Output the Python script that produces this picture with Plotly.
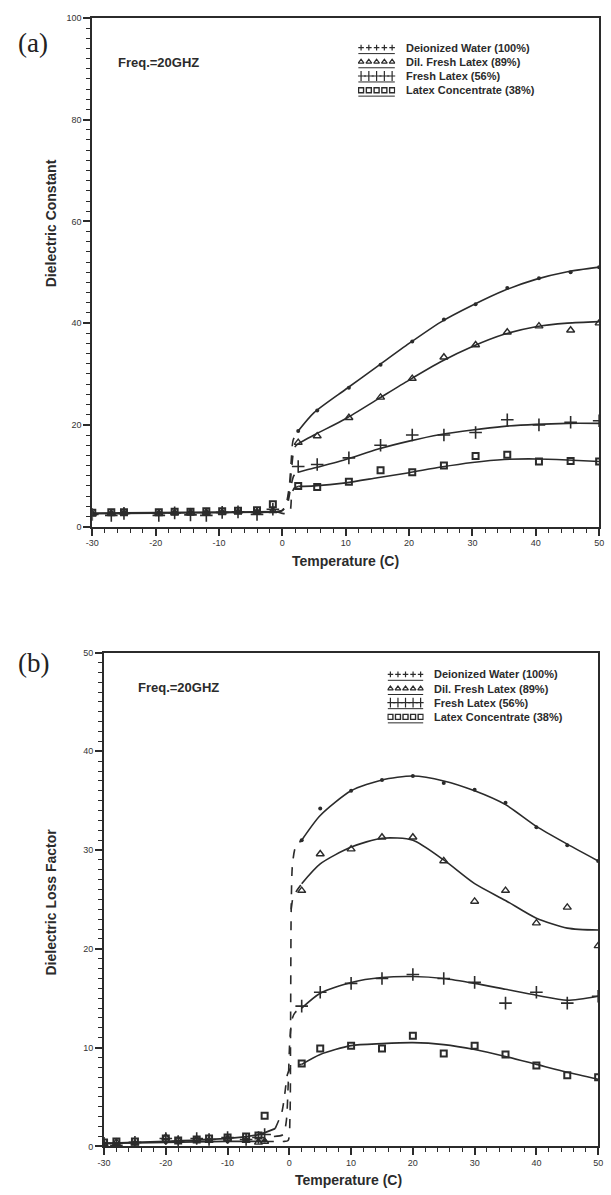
import plotly.graph_objects as go

# ---------------- Panel (a): Dielectric constant ----------------
A_X_LOW = [-30, -27, -25, -19.5, -17, -14.5, -12, -9.5, -7, -4, -1.5]
A_WATER_LOW = [2.6, 2.7, 2.8, 2.7, 2.8, 2.8, 2.8, 2.9, 2.9, 3.0, 3.0]
A_DIL_LOW = [2.5, 2.6, 2.7, 2.6, 2.7, 2.8, 2.8, 2.8, 2.9, 2.9, 3.1]
A_FRESH_LOW = [2.4, 2.2, 2.6, 2.2, 2.7, 2.3, 2.2, 2.8, 2.9, 2.4, 3.4]
A_CONC_LOW = [2.7, 2.8, 2.8, 2.8, 2.9, 2.9, 3.0, 3.0, 3.1, 3.2, 4.4]

A_X_HIGH = [2.5, 5.5, 10.5, 15.5, 20.5, 25.5, 30.5, 35.5, 40.5, 45.5, 50]
A_WATER = [18.8, 22.8, 27.3, 31.8, 36.4, 40.7, 43.7, 46.9, 48.8, 50.0, 51.0]
A_DIL = [16.5, 17.8, 21.4, 25.4, 29.1, 33.3, 35.7, 38.2, 39.4, 38.6, 40.0]
A_FRESH = [11.8, 12.2, 13.5, 16.0, 18.0, 18.0, 18.5, 21.0, 20.0, 20.5, 20.8]
A_CONC = [8.0, 7.8, 8.8, 11.1, 10.7, 12.0, 13.9, 14.1, 12.8, 12.9, 12.8]

# fitted curves
A_FIT_X = [2.5, 5, 10, 15, 20, 25, 30, 35, 40, 45, 50]
A_WATER_FIT = [18.8, 22.4, 27.0, 31.5, 36.0, 40.2, 43.5, 46.4, 48.6, 50.1, 51.0]
A_DIL_FIT = [16.3, 18.0, 21.2, 25.0, 28.8, 32.4, 35.4, 37.8, 39.3, 40.0, 40.3]
A_FRESH_FIT = [10.7, 11.5, 13.2, 15.2, 16.8, 18.1, 19.0, 19.7, 20.1, 20.3, 20.3]
A_CONC_FIT = [7.9, 8.0, 8.6, 9.6, 10.6, 11.7, 12.6, 13.2, 13.3, 13.1, 12.8]

A_LOW_FIT_X = [-30, -20, -10, -1]
A_LOW_FIT_Y = [2.6, 2.7, 2.8, 2.9]

# dashed transitions near 0 C
A_T_WATER_X = [-1, 0, 0.6, 1.1, 1.4, 1.7, 2.5]
A_T_WATER_Y = [2.9, 3.2, 4.5, 8, 13, 17, 18.8]
A_T_DIL_X = [-1, 0, 0.7, 1.2, 1.5, 1.9, 2.5]
A_T_DIL_Y = [2.9, 3.2, 4.5, 8, 12, 15.5, 16.3]
A_T_FRESH_X = [-1, 0, 0.8, 1.3, 1.8, 2.5]
A_T_FRESH_Y = [2.9, 3.2, 4.5, 7.5, 10, 10.7]
A_T_CONC_X = [-1, 0, 1.0, 1.3, 1.5, 1.9, 2.5]
A_T_CONC_Y = [2.9, 2.6, 2.6, 3.5, 6.5, 7.6, 7.9]

# ---------------- Panel (b): Dielectric loss factor ----------------
B_X_LOW = [-30, -28, -25, -20, -18, -15, -13, -10, -7, -5, -4]
B_WATER_LOW = [0.3, 0.3, 0.4, 0.4, 0.4, 0.5, 0.5, 0.5, 0.6, 0.6, 0.6]
B_DIL_LOW = [0.2, 0.4, 0.3, 0.9, 0.6, 0.7, 0.6, 0.8, 0.6, 0.4, 0.5]
B_FRESH_LOW = [0.3, 0.1, 0.4, 0.8, 0.5, 0.8, 0.7, 0.9, 0.7, 0.9, 1.2]
B_CONC_LOW = [0.4, 0.5, 0.5, 0.8, 0.6, 0.7, 0.8, 0.9, 1.0, 1.1, 3.1]

B_X_HIGH = [2, 5, 10, 15, 20, 25, 30, 35, 40, 45, 50]
B_WATER = [31.0, 34.2, 36.0, 37.1, 37.5, 36.8, 36.1, 34.8, 32.3, 30.5, 28.9]
B_DIL = [25.9, 29.6, 30.1, 31.3, 31.3, 28.9, 24.8, 25.9, 22.6, 24.2, 20.3]
B_FRESH = [14.2, 15.6, 16.5, 17.0, 17.4, 17.0, 16.6, 14.5, 15.6, 14.5, 15.2]
B_CONC = [8.4, 9.9, 10.2, 9.9, 11.2, 9.4, 10.2, 9.3, 8.2, 7.2, 7.0]

B_FIT_X = [2, 5, 10, 15, 20, 25, 30, 35, 40, 45, 50]
B_WATER_FIT = [31.0, 33.5, 36.0, 37.1, 37.5, 37.0, 36.0, 34.6, 32.4, 30.6, 28.9]
B_DIL_FIT = [26.6, 28.6, 30.3, 31.2, 31.0, 29.0, 26.6, 24.9, 23.1, 22.1, 21.9]
B_FRESH_FIT = [14.0, 15.5, 16.6, 17.1, 17.2, 17.0, 16.5, 15.9, 15.3, 14.8, 15.2]
B_CONC_FIT = [8.3, 9.3, 10.2, 10.4, 10.5, 10.3, 9.8, 9.1, 8.3, 7.5, 6.8]

B_LOW1_X = [-30, -20, -10, -4]
B_LOW1_Y = [0.3, 0.4, 0.5, 0.5]
B_LOW2_X = [-30, -20, -10, -5, -2.3]
B_LOW2_Y = [0.3, 0.5, 0.8, 1.2, 1.8]

B_T_WATER_X = [-4, -1, -0.2, 0.1, 0.2, 0.3, 0.5, 1.0, 2.0]
B_T_WATER_Y = [0.5, 0.5, 0.6, 3, 12, 24, 28.5, 30.3, 31.0]
B_T_DIL_X = [0.3, 0.6, 1.2, 2.0]
B_T_DIL_Y = [24, 25.2, 25.9, 26.6]
B_T_FRESH_X = [-2.5, -1, -0.5, -0.2, 0.1, 0.5, 1.0, 2.0]
B_T_FRESH_Y = [1.0, 1.2, 2.5, 6, 11, 13, 13.6, 14.0]
B_T_CONC_X = [-2.3, -1.2, -0.7, -0.3, 0.3, 1.0, 2.0]
B_T_CONC_Y = [1.8, 3.5, 5.5, 7.3, 8.0, 8.2, 8.3]

SERIES = ["Deionized Water (100%)", "Dil. Fresh Latex (89%)", "Fresh Latex (56%)",
          "Latex Concentrate (38%)"]
X_TICKS = [-30, -20, -10, 0, 10, 20, 30, 40, 50]
X_TICK_TEXT = ["-30", "-20", "-10", "0", "10", "20", "30", "40", "50"]
LEGEND_SAMPLE_X = [0, 1, 2, 3, 4]

INK = "#2b2b2b"
MARKERS = [
    dict(symbol="circle", size=4, color=INK),
    dict(symbol="triangle-up-open", size=7, color=INK, line=dict(width=1.4, color=INK)),
    dict(symbol="cross-thin-open", size=9, color=INK, line=dict(width=1.6, color=INK)),
    dict(symbol="square-open", size=6, color=INK, line=dict(width=2, color=INK)),
]
LEG_MARKERS = [
    dict(symbol="cross-thin-open", size=4, color=INK, line=dict(width=1.2, color=INK)),
    dict(symbol="triangle-up-open", size=5, color=INK, line=dict(width=1.2, color=INK)),
    dict(symbol="cross-thin-open", size=7, color=INK, line=dict(width=1.2, color=INK)),
    dict(symbol="square-open", size=5, color=INK, line=dict(width=1.4, color=INK)),
]

fig = go.Figure()


def add_line(x, y, xa, ya, dash="solid", width=1.6):
    fig.add_trace(go.Scatter(x=x, y=y, xaxis=xa, yaxis=ya, mode="lines",
                             line=dict(color=INK, width=width, dash=dash, shape="spline", smoothing=0.7),
                             showlegend=False, hoverinfo="skip"))


def add_pts(x, y, xa, ya, m, name):
    fig.add_trace(go.Scatter(x=x, y=y, xaxis=xa, yaxis=ya, mode="markers", name=name,
                             marker=m, showlegend=False))


# panel a
add_line(A_LOW_FIT_X, A_LOW_FIT_Y, "x", "y", width=2.2)
for tx, ty in [(A_T_WATER_X, A_T_WATER_Y), (A_T_DIL_X, A_T_DIL_Y),
               (A_T_FRESH_X, A_T_FRESH_Y), (A_T_CONC_X, A_T_CONC_Y)]:
    add_line(tx, ty, "x", "y", dash="dash")
for fy in [A_WATER_FIT, A_DIL_FIT, A_FRESH_FIT, A_CONC_FIT]:
    add_line(A_FIT_X, fy, "x", "y")
for low, high, m, nm in zip([A_WATER_LOW, A_DIL_LOW, A_FRESH_LOW, A_CONC_LOW],
                            [A_WATER, A_DIL, A_FRESH, A_CONC], MARKERS, SERIES):
    add_pts(A_X_LOW + A_X_HIGH, low + high, "x", "y", m, nm)

# panel b
add_line(B_LOW1_X, B_LOW1_Y, "x2", "y2", width=1.8)
add_line(B_LOW2_X, B_LOW2_Y, "x2", "y2", width=1.8)
for tx, ty in [(B_T_WATER_X, B_T_WATER_Y), (B_T_DIL_X, B_T_DIL_Y),
               (B_T_FRESH_X, B_T_FRESH_Y), (B_T_CONC_X, B_T_CONC_Y)]:
    add_line(tx, ty, "x2", "y2", dash="dash")
for fy in [B_WATER_FIT, B_DIL_FIT, B_FRESH_FIT, B_CONC_FIT]:
    add_line(B_FIT_X, fy, "x2", "y2")
for low, high, m, nm in zip([B_WATER_LOW, B_DIL_LOW, B_FRESH_LOW, B_CONC_LOW],
                            [B_WATER, B_DIL, B_FRESH, B_CONC], MARKERS, SERIES):
    add_pts(B_X_LOW + B_X_HIGH, low + high, "x2", "y2", m, nm)

# legend keys (row of symbols over a rule, as in the original)
for xa, ya in [("x3", "y3"), ("x4", "y4")]:
    for i, m in enumerate(LEG_MARKERS):
        fig.add_trace(go.Scatter(x=[LEGEND_SAMPLE_X[0] - 0.35, LEGEND_SAMPLE_X[-1] + 0.35],
                                 y=[i + 0.42, i + 0.42], xaxis=xa, yaxis=ya, mode="lines",
                                 line=dict(color=INK, width=1), showlegend=False, hoverinfo="skip"))
        fig.add_trace(go.Scatter(x=LEGEND_SAMPLE_X, y=[i] * len(LEGEND_SAMPLE_X), xaxis=xa, yaxis=ya,
                                 mode="markers", marker=m, showlegend=False, hoverinfo="skip"))

W, H = 611, 1195
A_L, A_R, A_T, A_B = 87, 604, 13, 526
B_L, B_R, B_T, B_B = 99, 603, 653, 1151
LEG_A = dict(x0=358, x1=396, row0=43, pitch=14.3)
LEG_B = dict(x0=388, x1=425, row0=675, pitch=14.3)
LEG_TEXT_A_X = 405
LEG_TEXT_B_X = 434

axis_common = dict(showline=True, linecolor=INK, linewidth=2, mirror=True,
                   ticks="outside", ticklen=7, tickwidth=1.5, tickcolor=INK,
                   showgrid=False, zeroline=False,
                   tickfont=dict(family="Liberation Sans, Arial", size=9, color="#333"))
minor = lambda d: dict(ticks="outside", ticklen=4, dtick=d, tickcolor=INK, tickwidth=1.2)
hidden = dict(visible=False, showgrid=False, zeroline=False, fixedrange=True)


def leg_axes(L):
    top = L["row0"] - L["pitch"] / 2
    bot = L["row0"] + 3.5 * L["pitch"]
    return (dict(domain=[L["x0"] / W, L["x1"] / W], range=[-0.4, 4.4], **hidden),
            dict(domain=[1 - bot / H, 1 - top / H], range=[3.5, -0.5], **hidden))


xa3, ya3 = leg_axes(LEG_A)
xa4, ya4 = leg_axes(LEG_B)

fig.update_layout(
    width=W, height=H, margin=dict(l=0, r=0, t=0, b=0),
    paper_bgcolor="white", plot_bgcolor="white", showlegend=False,
    xaxis=dict(domain=[A_L / W, A_R / W], anchor="y", range=[-30, 50],
               tickvals=X_TICKS, ticktext=X_TICK_TEXT, minor=minor(2), **axis_common),
    yaxis=dict(domain=[1 - A_B / H, 1 - A_T / H], anchor="x", range=[0, 100], dtick=20,
               minor=minor(2), **axis_common),
    xaxis2=dict(domain=[B_L / W, B_R / W], anchor="y2", range=[-30, 50],
                tickvals=X_TICKS, ticktext=X_TICK_TEXT, minor=minor(2), **axis_common),
    yaxis2=dict(domain=[1 - B_B / H, 1 - B_T / H], anchor="x2", range=[0, 50], dtick=10,
                minor=minor(1), **axis_common),
    xaxis3=dict(anchor="y3", **xa3), yaxis3=dict(anchor="x3", **ya3),
    xaxis4=dict(anchor="y4", **xa4), yaxis4=dict(anchor="x4", **ya4),
)

F = "Liberation Sans, Arial"
bold = dict(family=F, size=14, color=INK, weight="bold")
serif = dict(family="Liberation Serif, Times New Roman", size=27, color="#222")
ann = [
    dict(text="(a)", x=27 / W, y=1 - 38 / H, font=serif),
    dict(text="(b)", x=27 / W, y=1 - 664 / H, font=serif),
    dict(text="Freq.=20GHZ", x=155 / W, y=1 - 58 / H, font=dict(family=F, size=13, color=INK, weight="bold")),
    dict(text="Freq.=20GHZ", x=175 / W, y=1 - 688 / H, font=dict(family=F, size=13, color=INK, weight="bold")),
    dict(text="Dielectric Constant", x=45 / W, y=1 - 220 / H, textangle=-90, font=bold),
    dict(text="Dielectric Loss Factor", x=45 / W, y=1 - 905 / H, textangle=-90, font=bold),
    dict(text="Temperature (C)", x=345 / W, y=1 - 561 / H, font=bold),
    dict(text="Temperature (C)", x=348 / W, y=1 - 1185 / H, font=bold),
]
for i, name in enumerate(SERIES):
    ann.append(dict(text=name, x=LEG_TEXT_A_X / W, y=1 - (LEG_A["row0"] + i * LEG_A["pitch"]) / H,
                    xanchor="left", font=dict(family=F, size=11, color=INK, weight="bold")))
    ann.append(dict(text=name, x=LEG_TEXT_B_X / W, y=1 - (LEG_B["row0"] + i * LEG_B["pitch"]) / H,
                    xanchor="left", font=dict(family=F, size=11, color=INK, weight="bold")))
for a in ann:
    a.setdefault("xanchor", "center")
    fig.add_annotation(xref="paper", yref="paper", yanchor="middle", showarrow=False, **a)

fig.write_html("out.html", config={"displayModeBar": False},
               post_script="document.body.style.margin='0px';document.body.style.overflow='hidden';")
